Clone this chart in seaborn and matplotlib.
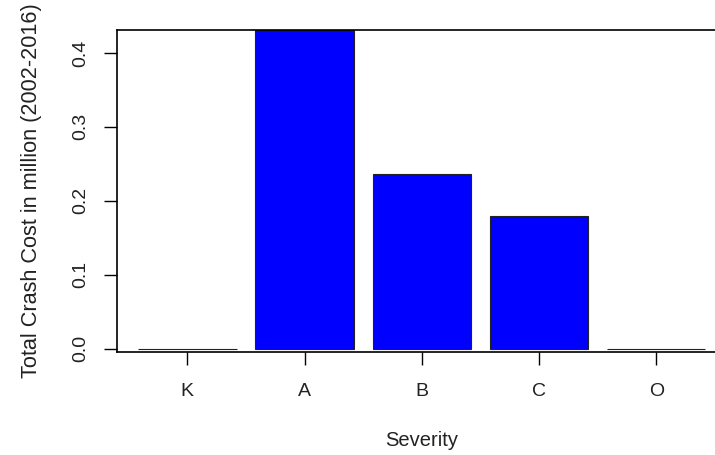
import matplotlib
matplotlib.use("Agg")
import matplotlib.pyplot as plt
import seaborn as sns
import pandas as pd

categories = ["K", "A", "B", "C", "O"]
values = [0.0, 0.431, 0.236, 0.179, 0.0]
y_ticks = [0.0, 0.1, 0.2, 0.3, 0.4]
y_tick_labels = ["0.0", "0.1", "0.2", "0.3", "0.4"]

sns.set_style("white")
plt.rcParams["font.family"] = ["Liberation Sans", "DejaVu Sans"]

W, H = 715, 455
fig = plt.figure(figsize=(W / 100, H / 100), dpi=100)
left, right, top, bottom = 116.5, 727.0, 30.0, 351.7
ax = fig.add_axes([left / W, 1 - bottom / H, (right - left) / W, (bottom - top) / H])

df = pd.DataFrame({"Severity": categories, "Cost": values})
sns.barplot(data=df, x="Severity", y="Cost", order=categories, color="#0000FF",
            saturation=1, edgecolor="#222222", linewidth=0.8, width=0.84, ax=ax)

ax.set_xlim(-0.604, 4.604)
ax.set_ylim(-0.00431, 0.431)
ax.set_yticks(y_ticks)
ax.set_yticklabels(y_tick_labels, rotation=90, va="center")

for s in ax.spines.values():
    s.set_visible(True)
    s.set_color("black")
    s.set_linewidth(1.2)

ax.tick_params(axis="both", which="major", direction="out", length=9.5, width=1.0,
               color="black", labelsize=14, labelcolor="#222222",
               bottom=True, left=True, top=False, right=False)
ax.tick_params(axis="y", pad=10)
ax.tick_params(axis="x", pad=13)

ax.set_xlabel("Severity", fontsize=14.5, color="#222222", labelpad=22)
ax.set_ylabel("Total Crash Cost in million (2002-2016)", fontsize=15.6, color="#222222", labelpad=22)

fig.savefig("out.png", dpi=100)
